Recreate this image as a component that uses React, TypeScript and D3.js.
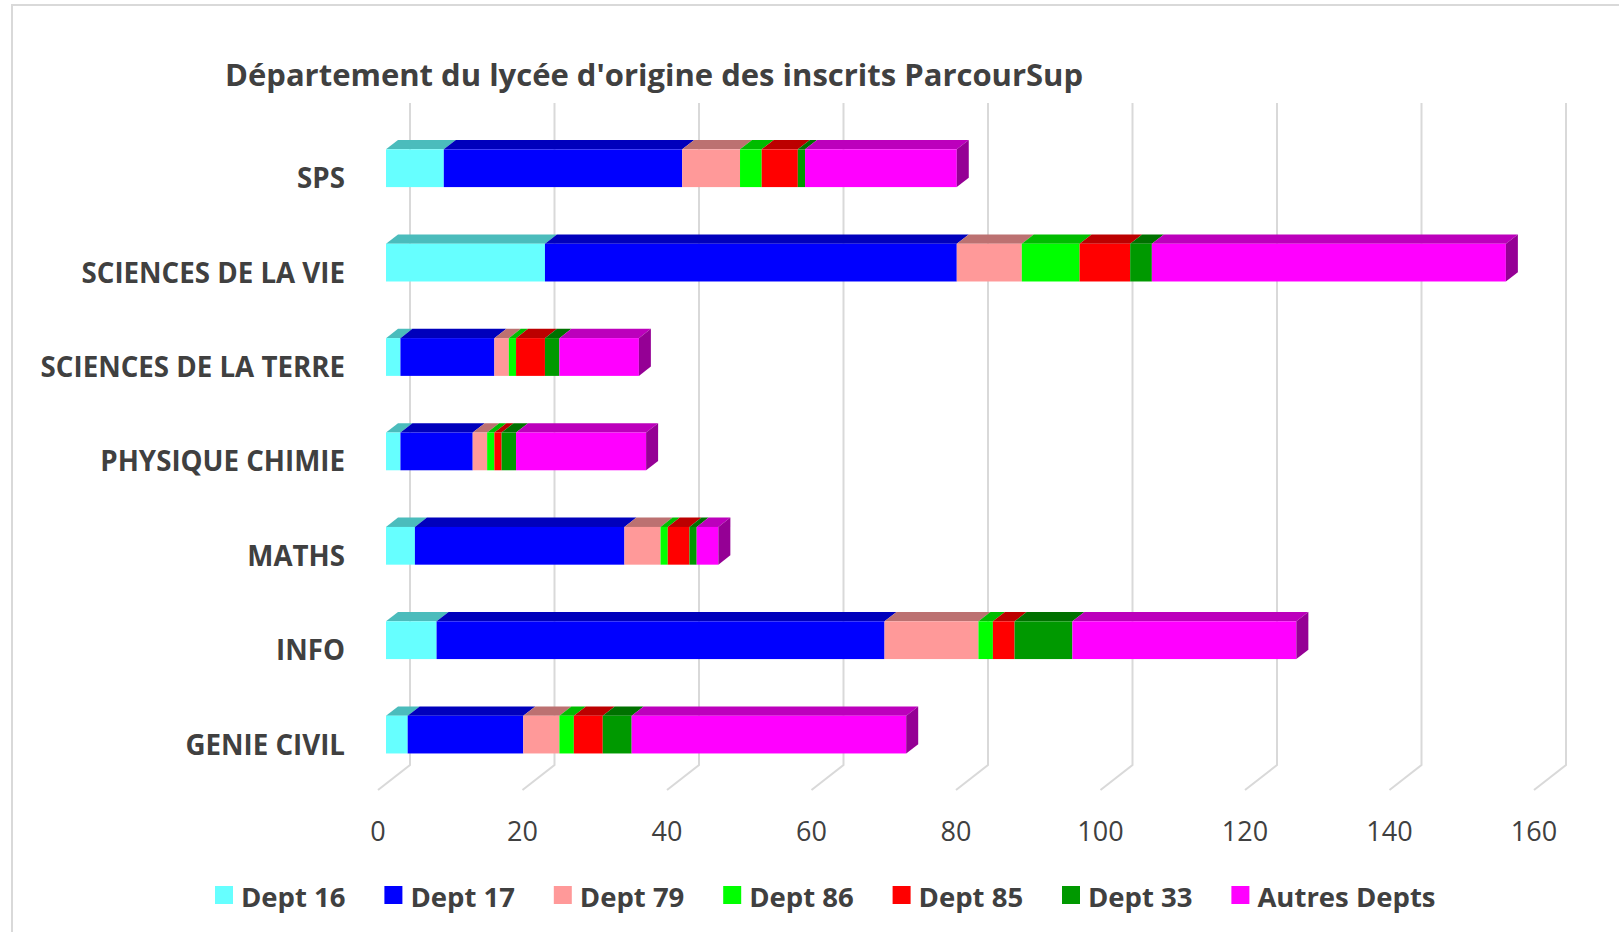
import { scaleBand, scaleLinear, color as d3color } from "d3";

const categories = [
  "SPS",
  "SCIENCES DE LA VIE",
  "SCIENCES DE LA TERRE",
  "PHYSIQUE CHIMIE",
  "MATHS",
  "INFO",
  "GENIE CIVIL",
];

const seriesNames = ["Dept 16", "Dept 17", "Dept 79", "Dept 86", "Dept 85", "Dept 33", "Autres Depts"];
const seriesColors = ["#66FFFF", "#0000FF", "#FF9999", "#00FF00", "#FF0000", "#009900", "#FF00FF"];

// one array per series, in the category order above
const dept16 = [8, 22, 2, 2, 4, 7, 3];
const dept17 = [33, 57, 13, 10, 29, 62, 16];
const dept79 = [8, 9, 2, 2, 5, 13, 5];
const dept86 = [3, 8, 1, 1, 1, 2, 2];
const dept85 = [5, 7, 4, 1, 3, 3, 4];
const dept33 = [1, 3, 2, 2, 1, 8, 4];
const autres = [21, 49, 11, 18, 3, 31, 38];
const series = [dept16, dept17, dept79, dept86, dept85, dept33, autres];

const xTicks = [0, 20, 40, 60, 80, 100, 120, 140, 160];

const W = 1619;
const H = 932;
const textColor = "#404040";
const font = "'Open Sans', 'DejaVu Sans', sans-serif";

// 3d offsets
const depthX = 12;
const depthY = 9.3;
const wallOffset = 24; // bar front plane -> back wall
const floorOffset = -8; // bar front plane -> floor front edge
const wallTop = 103;
const wallBottom = 765;
const floorFront = 790;

const x = scaleLinear().domain([0, 160]).range([386, 386 + 160 * 7.225]);
const y = scaleBand().domain(categories).range([92.7, 810.1]).padding(0.6);

const darker = (c: string, k: number) => (d3color(c) as any).darker(k).formatHex();

export default function App() {
  const bh = y.bandwidth();
  return (
    <svg
      width={W}
      height={H}
      style={{ position: "absolute", left: 0, top: 0, background: "#fff" }}
    >
      <rect x={12} y={5} width={W} height={H} fill="#fff" stroke="#d9d9d9" strokeWidth={2} />
      <text x={225} y={86} fontFamily={font} fontWeight="bold" fontSize={31} fill={textColor}>
        Département du lycée d'origine des inscrits ParcourSup
      </text>

      {xTicks.map((t) => {
        const xb = x(t) + wallOffset;
        const xf = x(t) + floorOffset;
        return (
          <g key={t}>
            <polyline
              points={`${xb},${wallTop} ${xb},${wallBottom} ${xf},${floorFront}`}
              fill="none"
              stroke="#d9d9d9"
              strokeWidth={2}
            />
            <text
              x={xf}
              y={830}
              textAnchor="middle"
              dominantBaseline="central"
              fontFamily={font}
              fontSize={27}
              fill={textColor}
            >
              {t}
            </text>
          </g>
        );
      })}

      {categories.map((cat, ci) => {
        const y0 = y(cat) as number;
        let acc = 0;
        const segs = series.map((s, si) => {
          const start = acc;
          acc += s[ci];
          return { si, start, end: acc };
        });
        const last = segs[segs.length - 1];
        return (
          <g key={cat}>
            {segs.map(({ si, start, end }) => {
              const x0 = x(start);
              const x1 = x(end);
              const c = seriesColors[si];
              return (
                <g key={si}>
                  <polygon
                    points={`${x0},${y0} ${x1},${y0} ${x1 + depthX},${y0 - depthY} ${x0 + depthX},${y0 - depthY}`}
                    fill={darker(c, 0.85)}
                  />
                  <rect x={x0} y={y0} width={x1 - x0} height={bh} fill={c} />
                </g>
              );
            })}
            <polygon
              points={`${x(last.end)},${y0} ${x(last.end) + depthX},${y0 - depthY} ${x(last.end) + depthX},${y0 - depthY + bh} ${x(last.end)},${y0 + bh}`}
              fill={darker(seriesColors[last.si], 1.5)}
            />
            <text
              x={345}
              y={y0 + bh / 2 + 9}
              textAnchor="end"
              dominantBaseline="central"
              fontFamily={font}
              fontWeight="bold"
              fontSize={27.7}
              fill={textColor}
            >
              {cat}
            </text>
          </g>
        );
      })}

      {seriesNames.map((name, i) => {
        const lx = 215 + i * 169.4;
        return (
          <g key={name}>
            <rect x={lx} y={886} width={18} height={18} fill={seriesColors[i]} />
            <text
              x={lx + 26}
              y={896}
              dominantBaseline="central"
              fontFamily={font}
              fontWeight="bold"
              fontSize={27.5}
              fill={textColor}
            >
              {name}
            </text>
          </g>
        );
      })}
    </svg>
  );
}
